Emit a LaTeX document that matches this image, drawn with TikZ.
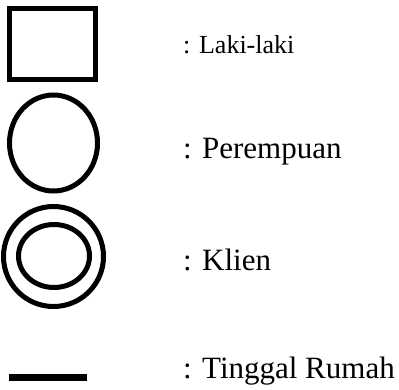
\documentclass[tikz,border=0pt]{standalone}
\usepackage{fontspec}
\setmainfont{Liberation Serif}
\newfontfamily\tnrfont{Liberation Serif}
\usetikzlibrary{shapes.geometric}
\begin{document}
\begin{tikzpicture}[x=1pt,y=-1pt,
  sym/.style={draw=black,line width=5pt},
  lbl/.style={anchor=base west,inner sep=0pt,font=\tnrfont\fontsize{31}{31}\selectfont},
  lblsmall/.style={anchor=base west,inner sep=0pt,font=\tnrfont\fontsize{26}{26}\selectfont}]
\useasboundingbox (0,0) rectangle (399,389);
\node[sym,minimum width=86pt,minimum height=71pt,inner sep=0pt,anchor=center] (male) at (52.5,44) {};
\node[sym,ellipse,minimum width=88pt,minimum height=96pt,inner sep=0pt] (female) at (53.5,143) {};
\node[sym,circle,minimum size=100pt,inner sep=0pt] (clientout) at (53.5,256.5) {};
\node[sym,ellipse,minimum width=71pt,minimum height=63pt,inner sep=0pt] (clientin) at (54,256) {};
\coordinate (l1) at (9,377.5);
\coordinate (l2) at (87,377.5);
\draw[line width=7pt] (l1) -- (l2);
\node[lblsmall] (t1) at (183,53) {: Laki-laki};
\node[lbl] (t2) at (183,158) {: Perempuan};
\node[lbl] (t3) at (183,270) {: Klien};
\node[lbl] (t4) at (183,378) {: Tinggal Rumah};
\end{tikzpicture}
\end{document}
